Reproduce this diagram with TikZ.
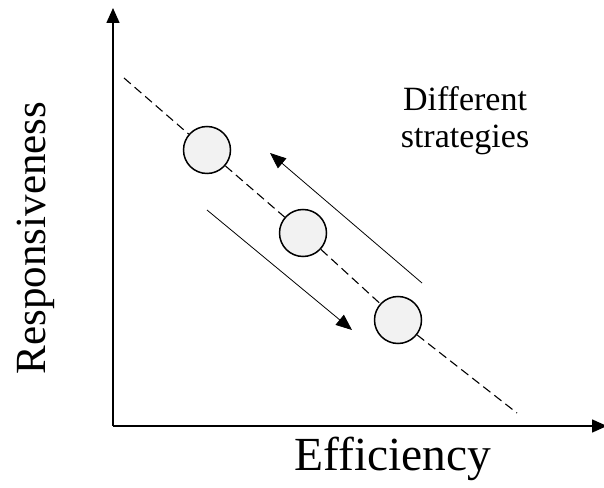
\documentclass[tikz,border=0pt]{standalone}
\usepackage{fontspec}
\setmainfont{Liberation Serif}
\usetikzlibrary{arrows.meta}
\begin{document}
\begin{tikzpicture}[x=1pt,y=1pt,
  axis/.style={line width=1.6pt,-{Triangle[length=15pt,width=13pt]}},
  strat/.style={circle,draw,line width=1.5pt,fill=gray!10,minimum size=47pt,inner sep=0pt},
  trend/.style={line width=1.1pt,dash pattern=on 9pt off 5pt},
  move/.style={line width=0.8pt,-{Triangle[length=16pt,width=13pt]}}]
\useasboundingbox (0,0) rectangle (604,487);
% axes
\coordinate (O) at (113,61);
\coordinate (ytop) at (113,479);
\coordinate (xend) at (607,61);
\draw[axis] (O) -- (ytop);
\draw[axis] (O) -- (xend);
\node[rotate=90,anchor=base,font=\fontsize{43}{49}\selectfont] (ylab) at (45,249) {Responsiveness};
\node[anchor=base,font=\fontsize{47.5}{54}\selectfont] (xlab) at (393,17) {Efficiency};
% trade-off line and strategies
\coordinate (tA) at (124,409);
\coordinate (tB) at (517,74);
\node[strat] (s1) at (207,337) {};
\node[strat] (s2) at (303,254) {};
\node[strat] (s3) at (398,167) {};
\foreach \A/\B in {tA/s1,s1/s2,s2/s3,s3/tB}{\draw[trend] (\A) -- (\B);}
% moving along the line
\coordinate (uTail) at (422,204);
\coordinate (uTip) at (270,334);
\coordinate (dTail) at (207,277);
\coordinate (dTip) at (352,157);
\draw[move] (uTail) -- (uTip);
\draw[move] (dTail) -- (dTip);
\node[align=center,anchor=north,font=\fontsize{34}{37}\selectfont] (lbl) at (465,404) {Different\\strategies};
\end{tikzpicture}
\end{document}
